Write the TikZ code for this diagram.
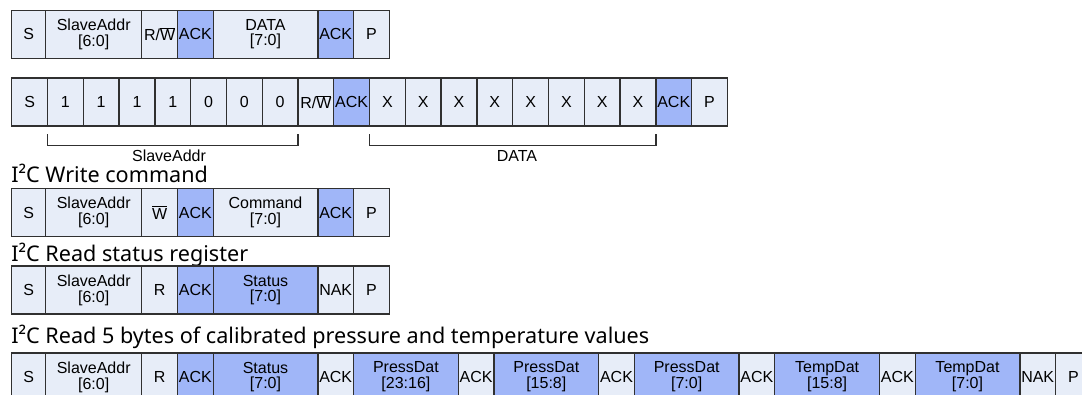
\documentclass[tikz,border=0pt]{standalone}
\usepackage{fontspec}
\setmainfont{Liberation Sans}
\newfontfamily\titlefont{Noto Sans}
\definecolor{cellbg}{HTML}{E7EDF8}
\definecolor{cellblue}{HTML}{A0B6F8}
\definecolor{edge}{HTML}{303030}
\tikzset{
  cellbox/.style={draw=edge, line width=1pt, fill=cellbg, minimum height=36pt,
    inner sep=0pt, outer sep=0pt, anchor=west, align=center,
    font=\fontsize{12}{11.8}\selectfont},
  blue/.style={fill=cellblue},
  sw/.style={minimum width=26.8pt},
  s0/.style={minimum width=25.5pt},
  aw/.style={minimum width=72pt},
  ww/.style={minimum width=78.5pt},
  bw/.style={minimum width=26.84pt},
  ttl/.style={anchor=base west, inner sep=0pt, font=\titlefont\fontsize{16.2}{16.2}\selectfont},
  lbl/.style={inner sep=0pt, font=\fontsize{12}{12}\selectfont},
  bracket/.style={draw=edge, line width=1pt}
}
\newcommand{\wbar}{$\overline{\hbox{W}}$}
\begin{document}
\begin{tikzpicture}[x=0.75pt,y=-0.75pt]
\useasboundingbox (0,0) rectangle (1082,394);
\clip (0,0) rectangle (1082,394);
% Row 1
\node[cellbox,s0] (a1) at (11.7,34.2) {S};
\node[cellbox,aw] (a2) at (a1.east) {SlaveAddr\\{}[6:0]};
\node[cellbox,sw] (a3) at (a2.east) {R/\wbar};
\node[cellbox,sw,blue] (a4) at (a3.east) {ACK};
\node[cellbox,ww] (a5) at (a4.east) {DATA\\{}[7:0]};
\node[cellbox,sw,blue] (a6) at (a5.east) {ACK};
\node[cellbox,sw] (a7) at (a6.east) {P};
% Row 2
\node[cellbox,bw] (b0) at (11.7,102) {S};
\node[cellbox,bw] (b1) at (b0.east) {1};
\node[cellbox,bw] (b2) at (b1.east) {1};
\node[cellbox,bw] (b3) at (b2.east) {1};
\node[cellbox,bw] (b4) at (b3.east) {1};
\node[cellbox,bw] (b5) at (b4.east) {0};
\node[cellbox,bw] (b6) at (b5.east) {0};
\node[cellbox,bw] (b7) at (b6.east) {0};
\node[cellbox,bw] (b8) at (b7.east) {R/\wbar};
\node[cellbox,bw,blue] (b9) at (b8.east) {ACK};
\node[cellbox,bw] (x1) at (b9.east) {X};
\node[cellbox,bw] (x2) at (x1.east) {X};
\node[cellbox,bw] (x3) at (x2.east) {X};
\node[cellbox,bw] (x4) at (x3.east) {X};
\node[cellbox,bw] (x5) at (x4.east) {X};
\node[cellbox,bw] (x6) at (x5.east) {X};
\node[cellbox,bw] (x7) at (x6.east) {X};
\node[cellbox,bw] (x8) at (x7.east) {X};
\node[cellbox,bw,blue] (x9) at (x8.east) {ACK};
\node[cellbox,bw] (x10) at (x9.east) {P};
\draw[bracket] ([yshift=-6pt]b1.south west) -- ([yshift=-14.8pt]b1.south west)
  -- ([yshift=-14.8pt]b7.south east) -- ([yshift=-6pt]b7.south east);
\draw[bracket] ([yshift=-6pt]x1.south west) -- ([yshift=-14.8pt]x1.south west)
  -- ([yshift=-14.8pt]x8.south east) -- ([yshift=-6pt]x8.south east);
\node[lbl] (lslave) at (169,155.5) {SlaveAddr};
\node[lbl] (ldata) at (517,155.5) {DATA};
% Row 3
\node[ttl] (t1) at (11,182.7) {I²C Write command};
\node[cellbox,s0] (c1) at (11.7,212.5) {S};
\node[cellbox,aw] (c2) at (c1.east) {SlaveAddr\\{}[6:0]};
\node[cellbox,sw] (c3) at (c2.east) {\wbar};
\node[cellbox,sw,blue] (c4) at (c3.east) {ACK};
\node[cellbox,ww] (c5) at (c4.east) {Command\\{}[7:0]};
\node[cellbox,sw,blue] (c6) at (c5.east) {ACK};
\node[cellbox,sw] (c7) at (c6.east) {P};
% Row 4
\node[ttl] (t2) at (11,261) {I²C Read status register};
\node[cellbox,s0] (d1) at (11.7,290) {S};
\node[cellbox,aw] (d2) at (d1.east) {SlaveAddr\\{}[6:0]};
\node[cellbox,sw] (d3) at (d2.east) {R};
\node[cellbox,sw,blue] (d4) at (d3.east) {ACK};
\node[cellbox,ww,blue] (d5) at (d4.east) {Status\\{}[7:0]};
\node[cellbox,sw] (d6) at (d5.east) {NAK};
\node[cellbox,sw] (d7) at (d6.east) {P};
% Row 5
\node[ttl] (t3) at (11,343.4) {I²C Read 5 bytes of calibrated pressure and temperature values};
\node[cellbox,s0] (e1) at (11.7,377) {S};
\node[cellbox,aw] (e2) at (e1.east) {SlaveAddr\\{}[6:0]};
\node[cellbox,sw] (e3) at (e2.east) {R};
\node[cellbox,sw,blue] (e4) at (e3.east) {ACK};
\node[cellbox,ww,blue] (e5) at (e4.east) {Status\\{}[7:0]};
\node[cellbox,sw] (e6) at (e5.east) {ACK};
\node[cellbox,ww,blue] (e7) at (e6.east) {PressDat\\{}[23:16]};
\node[cellbox,sw] (e8) at (e7.east) {ACK};
\node[cellbox,ww,blue] (e9) at (e8.east) {PressDat\\{}[15:8]};
\node[cellbox,sw] (e10) at (e9.east) {ACK};
\node[cellbox,ww,blue] (e11) at (e10.east) {PressDat\\{}[7:0]};
\node[cellbox,sw] (e12) at (e11.east) {ACK};
\node[cellbox,ww,blue] (e13) at (e12.east) {TempDat\\{}[15:8]};
\node[cellbox,sw] (e14) at (e13.east) {ACK};
\node[cellbox,ww,blue] (e15) at (e14.east) {TempDat\\{}[7:0]};
\node[cellbox,sw] (e16) at (e15.east) {NAK};
\node[cellbox,sw] (e17) at (e16.east) {P};
\end{tikzpicture}
\end{document}
